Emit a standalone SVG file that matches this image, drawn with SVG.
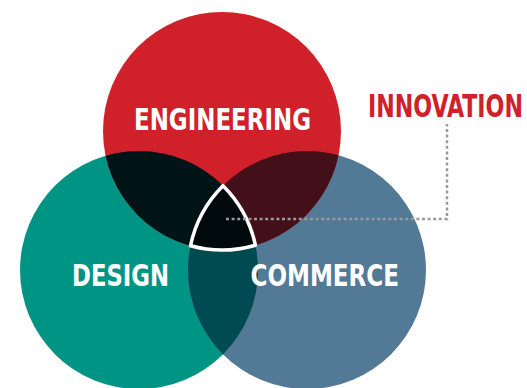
<svg xmlns="http://www.w3.org/2000/svg" width="527" height="388" viewBox="0 0 527 388">
<style>
.lbl{font-family:"Liberation Sans Narrow","DejaVu Sans Condensed","Liberation Sans",sans-serif;font-weight:bold;fill:#ffffff}
.red{fill:#d0202a}
.dot{fill:none;stroke:#9a9a9a;stroke-width:2.5;stroke-dasharray:3 2.6}
</style>
<defs>
<clipPath id="cR"><circle cx="222" cy="131" r="119"/></clipPath>
<clipPath id="cT"><circle cx="139" cy="270" r="119"/></clipPath>
</defs>
<rect width="527" height="388" fill="#ffffff"/>
<g id="design"><circle cx="139" cy="270" r="119" fill="#009485"/></g>
<g id="commerce"><circle cx="307" cy="270" r="119" fill="#527a96"/></g>
<g id="engineering"><circle cx="222" cy="131" r="119" class="red"/></g>
<g id="overlaps">
<circle cx="139" cy="270" r="119" fill="#001418" clip-path="url(#cR)"/>
<circle cx="307" cy="270" r="119" fill="#430f18" clip-path="url(#cR)"/>
<circle cx="307" cy="270" r="119" fill="#004a52" clip-path="url(#cT)"/>
</g>
<g id="innovation-core">
<path d="M223,185.7 A119,119 0 0 1 255.4,245.2 A119,119 0 0 1 190.5,245.75 A119,119 0 0 1 223,185.7 Z" fill="#000a0c" stroke="#ffffff" stroke-width="3.5" stroke-linejoin="round"/>
</g>
<g id="connectors">
<path class="dot" d="M226,219 H447 V124"/>
</g>
<g id="labels">
<text class="lbl" x="134" y="129.5" font-size="31" textLength="177" lengthAdjust="spacingAndGlyphs">ENGINEERING</text>
<text class="lbl" x="72" y="285.7" font-size="30.5" textLength="97" lengthAdjust="spacingAndGlyphs">DESIGN</text>
<text class="lbl" x="250.5" y="285.7" font-size="30.5" textLength="148.5" lengthAdjust="spacingAndGlyphs">COMMERCE</text>
<g id="innovation" transform="translate(368,117) scale(1,1.3)"><text class="lbl red" x="0" y="0" font-size="24" textLength="155" lengthAdjust="spacingAndGlyphs">INNOVATION</text></g>
</g>
</svg>
